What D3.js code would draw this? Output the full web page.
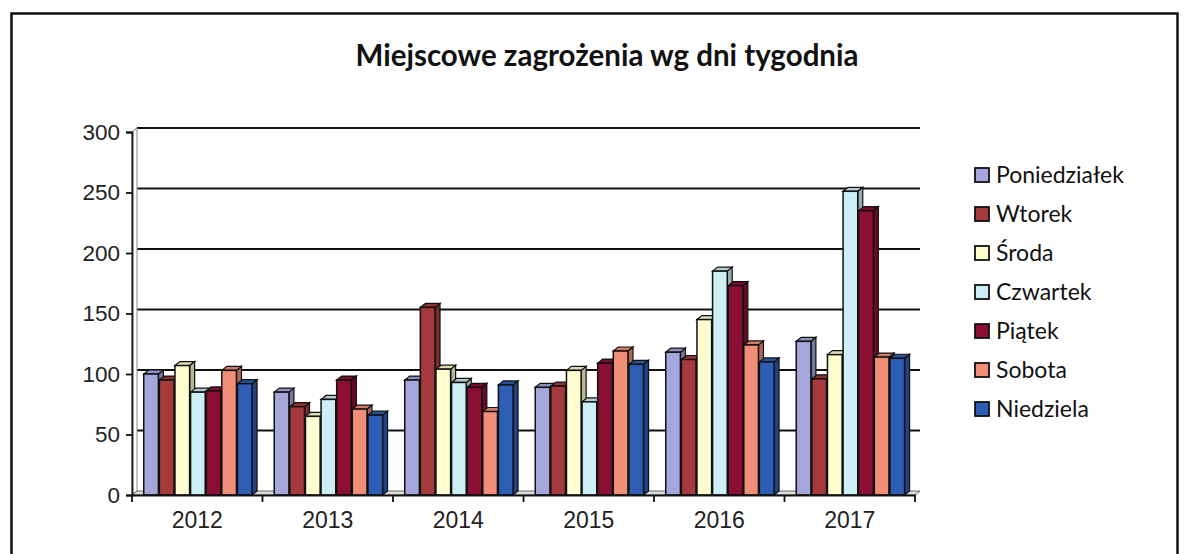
<!DOCTYPE html>
<html>
<head>
<meta charset="utf-8">
<script src="https://cdn.jsdelivr.net/npm/d3@7"></script>
<style>
  html, body { margin: 0; padding: 0; background: #fff; }
  svg { display: block; }
</style>
</head>
<body>
<svg id="chart" width="1188" height="554"></svg>
<script>
// ---- data ----
const years = ["2012", "2013", "2014", "2015", "2016", "2017"];
const days = ["Poniedziałek", "Wtorek", "Środa", "Czwartek", "Piątek", "Sobota", "Niedziela"];
const poniedzialek = [100, 85, 95, 89, 118, 127];
const wtorek       = [95, 73, 155, 90, 112, 96];
const sroda        = [107, 65, 104, 103, 145, 116];
const czwartek     = [85, 79, 93, 77, 185, 251];
const piatek       = [86, 95, 89, 109, 173, 235];
const sobota       = [103, 71, 69, 119, 124, 114];
const niedziela    = [92, 66, 91, 108, 110, 113];
const yTicks = [0, 50, 100, 150, 200, 250, 300];
const colors = ["#a4a6dc", "#a53a3c", "#fdfdd0", "#cdeef5", "#8a0f33", "#f08e78", "#2e5db4"];
const title = "Miejscowe zagrożenia wg dni tygodnia";

const seriesValues = [poniedzialek, wtorek, sroda, czwartek, piatek, sobota, niedziela];

// ---- layout ----
const svg = d3.select("#chart");
const plot = { left: 132, right: 915, top: 132, bottom: 495 };
const depthX = 5, depthY = 4;

// outer frame
svg.append("rect")
  .attr("x", 11.5).attr("y", 13.5)
  .attr("width", 1166).attr("height", 560)
  .attr("fill", "none").attr("stroke", "#111").attr("stroke-width", 2.5);

svg.append("text")
  .attr("x", 607).attr("y", 66)
  .attr("text-anchor", "middle")
  .attr("font-family", "Lato, 'Open Sans', sans-serif")
  .attr("font-weight", "bold")
  .attr("font-size", 29.5)
  .attr("fill", "#111")
  .text(title);

const y = d3.scaleLinear().domain([0, 300]).range([plot.bottom, plot.top]);
const x0 = d3.scaleBand().domain(years).range([plot.left, plot.right]).paddingInner(0).paddingOuter(0);
const cw = x0.bandwidth();
const x1 = d3.scaleBand().domain(days).range([cw * 0.09, cw * 0.09 + cw * 0.83]).paddingInner(0.06).paddingOuter(0);

// back wall gridlines
const g = svg.append("g");
yTicks.forEach(t => {
  if (t === 0) return;
  g.append("line")
    .attr("x1", plot.left + depthX).attr("x2", plot.right + depthX)
    .attr("y1", y(t) - depthY).attr("y2", y(t) - depthY)
    .attr("stroke", "#111").attr("stroke-width", 1.8);
  g.append("line")
    .attr("x1", plot.left).attr("x2", plot.left + depthX)
    .attr("y1", y(t)).attr("y2", y(t) - depthY)
    .attr("stroke", "#777").attr("stroke-width", 1);
});
// left wall
g.append("path")
  .attr("d", `M${plot.left},${plot.bottom} L${plot.left},${plot.top} L${plot.left + depthX},${plot.top - depthY} L${plot.left + depthX},${plot.bottom - depthY} Z`)
  .attr("fill", "#fff").attr("stroke", "#888").attr("stroke-width", 1);
// floor
g.append("path")
  .attr("d", `M${plot.left},${plot.bottom} L${plot.left + depthX},${plot.bottom - depthY} L${plot.right + depthX},${plot.bottom - depthY} L${plot.right},${plot.bottom} Z`)
  .attr("fill", "#ddd").attr("stroke", "#666").attr("stroke-width", 1);

// bars
const bars = svg.append("g");
years.forEach((yr, ci) => {
  days.forEach((d, si) => {
    const v = seriesValues[si][ci];
    const bx = x0(yr) + x1(d);
    const bw = x1.bandwidth();
    const by = y(v);
    const base = plot.bottom;
    const c = d3.color(colors[si]);
    const cg = bars.append("g");
    cg.append("path")
      .attr("d", `M${bx + bw},${base} L${bx + bw},${by} L${bx + bw + depthX},${by - depthY} L${bx + bw + depthX},${base - depthY} Z`)
      .attr("fill", c.darker(0.9)).attr("stroke", "#111").attr("stroke-width", 1.2);
    cg.append("path")
      .attr("d", `M${bx},${by} L${bx + depthX},${by - depthY} L${bx + bw + depthX},${by - depthY} L${bx + bw},${by} Z`)
      .attr("fill", c.darker(0.4)).attr("stroke", "#111").attr("stroke-width", 1.2);
    cg.append("rect")
      .attr("x", bx).attr("y", by)
      .attr("width", bw).attr("height", base - by)
      .attr("fill", colors[si]).attr("stroke", "#111").attr("stroke-width", 1.5);
  });
});

// axes
const yAxis = d3.axisLeft(y).tickValues(yTicks).tickSize(6).tickPadding(6);
const ya = svg.append("g").attr("transform", `translate(${plot.left},0)`).call(yAxis);
ya.select(".domain").attr("stroke", "#111").attr("stroke-width", 1.8);
ya.selectAll(".tick line").attr("stroke", "#111").attr("stroke-width", 1.8);
ya.selectAll("text").attr("font-family", "'Liberation Sans', Arial, sans-serif").attr("font-size", 22.5).attr("fill", "#222");

const xAxis = d3.axisBottom(x0).tickSize(0).tickPadding(17);
const xa = svg.append("g").attr("transform", `translate(0,${plot.bottom})`).call(xAxis);
xa.select(".domain").attr("stroke", "#111").attr("stroke-width", 1.8);
xa.selectAll("text").attr("font-family", "'Liberation Sans', Arial, sans-serif").attr("font-size", 23).attr("fill", "#222");
const boundaries = years.map(yv => x0(yv)).concat([plot.right]);
xa.selectAll(".bnd").data(boundaries).enter().append("line")
  .attr("x1", d => d).attr("x2", d => d).attr("y1", 0).attr("y2", 7)
  .attr("stroke", "#111").attr("stroke-width", 1.8);

// legend
const lg = svg.append("g").attr("transform", "translate(975,175)");
days.forEach((d, i) => {
  const row = lg.append("g").attr("transform", `translate(0,${i * 39})`);
  row.append("rect").attr("x", 0).attr("y", -7).attr("width", 14).attr("height", 14)
    .attr("fill", colors[i]).attr("stroke", "#111").attr("stroke-width", 1.8);
  row.append("text").attr("x", 21).attr("y", 0).attr("dy", "0.35em")
    .attr("font-family", "Lato, 'Open Sans', sans-serif").attr("font-size", 23).attr("fill", "#111")
    .text(d);
});
</script>
</body>
</html>
